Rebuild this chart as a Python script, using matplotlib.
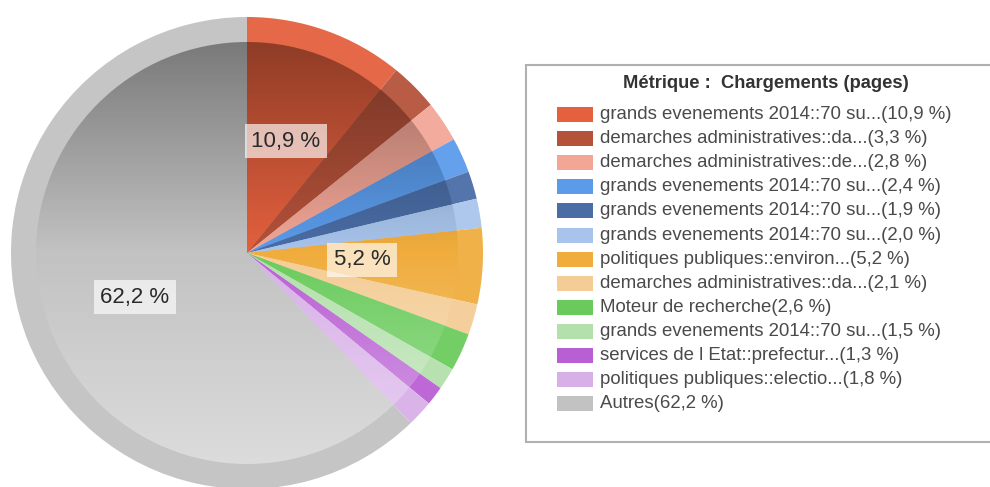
import matplotlib
matplotlib.use("Agg")
import matplotlib.pyplot as plt
import numpy as np
from matplotlib.patches import Circle, Rectangle

plt.rcParams["font.family"] = ["Liberation Sans", "DejaVu Sans"]

# data, clockwise from 12 o'clock
names = [
    "grands evenements 2014::70 su...",
    "demarches administratives::da...",
    "demarches administratives::de...",
    "grands evenements 2014::70 su...",
    "grands evenements 2014::70 su...",
    "grands evenements 2014::70 su...",
    "politiques publiques::environ...",
    "demarches administratives::da...",
    "Moteur de recherche",
    "grands evenements 2014::70 su...",
    "services de l Etat::prefectur...",
    "politiques publiques::electio...",
    "Autres",
]
values = [10.9, 3.3, 2.8, 2.4, 1.9, 2.0, 5.2, 2.1, 2.6, 1.5, 1.3, 1.8, 62.2]
colors = ["#e4603e", "#b5523a", "#f2a696", "#5b9bea", "#4a6da6", "#a8c4ec",
          "#f0ad3e", "#f4cd96", "#6acb5c", "#b4e0ac", "#b95fd4", "#d8b0e8",
          "#c2c2c2"]
# label positions (pixels from top-left) for the slices that show a value
label_pos = {10.9: (286, 141), 5.2: (362, 260), 62.2: (135, 297)}


def fmt(v):
    return f"{v:.1f} %".replace(".", ",")


W, H = 990, 487
fig = plt.figure(figsize=(W / 100, H / 100), dpi=100)
ax = fig.add_axes([0, 0, 1, 1])

cx, cy = 247, H - 253
r_out, r_in = 236, 211

# outer ring
ax.pie(values, radius=r_out, center=(cx, cy), startangle=90, counterclock=False,
       colors=colors, wedgeprops=dict(linewidth=0))
ax.add_patch(Circle((cx, cy), r_out, facecolor="white", alpha=0.06, lw=0))
# inner disc
ax.pie(values, radius=r_in, center=(cx, cy), startangle=90,
       counterclock=False, colors=colors, wedgeprops=dict(linewidth=0))

# vertical shading: darker at top, lighter at bottom
n = 256
t = np.linspace(0, 1, n)
grad = np.zeros((n, 1, 4))
top = t < 0.5
grad[top, 0, 3] = (0.5 - t[top]) * 0.75
grad[~top, 0, :3] = 1.0
grad[~top, 0, 3] = (t[~top] - 0.5) * 0.85
clip = Circle((cx, cy), r_in, transform=ax.transData)
img = ax.imshow(grad, extent=(cx - r_in, cx + r_in, cy - r_in, cy + r_in),
                aspect="auto", origin="upper", zorder=3)
img.set_clip_path(clip)

# percentage labels on the big slices
for v in values:
    if v not in label_pos:
        continue
    x, y = label_pos[v]
    ax.text(x, H - y, fmt(v), ha="center", va="center", fontsize=16,
            color="#2a2a2a", zorder=5,
            bbox=dict(boxstyle="square,pad=0.28", facecolor="white", alpha=0.65, lw=0))

# legend box
ax.add_patch(Rectangle((526, H - 442), 480, 377, facecolor="white",
                       edgecolor="#b0b0b0", lw=1.5, zorder=4))
ax.text(623, H - 83, "Métrique :  Chargements (pages)", ha="left", va="center",
        fontsize=13.2, fontweight="bold", color="#333333", zorder=5)
for i, (nm, v, c) in enumerate(zip(names, values, colors)):
    y = H - (114.5 + i * 24.1)
    ax.add_patch(Rectangle((557, y - 7.5), 36, 15, facecolor=c, lw=0, zorder=5))
    ax.text(600, y, f"{nm}({fmt(v)})", ha="left", va="center", fontsize=13.4,
            color="#4a4a4a", zorder=5)

ax.set_xlim(0, W)
ax.set_ylim(0, H)
ax.set_aspect("equal")
ax.set_axis_off()

fig.savefig("out.png", dpi=100)
